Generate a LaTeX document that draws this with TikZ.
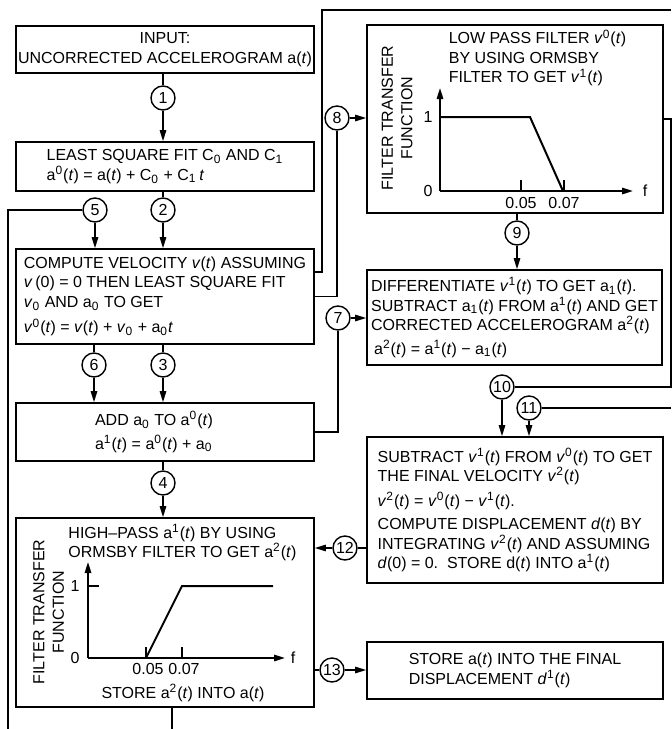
\documentclass[tikz,border=0pt]{standalone}
\usepackage{fontspec}
\setmainfont{Liberation Sans}
\usetikzlibrary{arrows.meta}
\newcommand{\Tt}{\textit{t}}
\newcommand{\Vv}{\textit{v}}
\newcommand{\Sp}[1]{\textsuperscript{#1}}
\newcommand{\Sb}[1]{\textsubscript{#1}}
\begin{document}
\begin{tikzpicture}[x=0.5pt, y=-0.5pt, line width=0.7pt,
    font=\fontsize{8}{9.75}\selectfont,
    box/.style={draw, line width=0.8pt, align=left, inner sep=0pt},
    num/.style={circle, draw, line width=0.7pt, inner sep=0pt, minimum size=12pt},
    arr/.style={-{Triangle[length=5.5pt,width=3.2pt]}},
    axis/.style={line width=0.9pt, -{Triangle[length=5.5pt,width=3.2pt]}},
    curve/.style={line width=1pt}]
    \useasboundingbox (0,0) rectangle (671,729);

    % Left column
    \node[box, align=center, minimum width=149pt, minimum height=23.5pt] (in) at (165,49.5)
        {INPUT:\\UNCORRECTED ACCELEROGRAM a(\Tt)};
    \node[num] (c1) at (163,98) {1};
    \node[box, minimum width=149pt, minimum height=24.5pt] (lsq) at (165,166.5)
        {LEAST SQUARE FIT C\Sb{0} AND C\Sb{1}\\a\Sp{0}(\Tt) = a(\Tt) + C\Sb{0} + C\Sb{1}\,\Tt};
    \node[num] (c5) at (95,210) {5};
    \node[num] (c2) at (163,210) {2};
    \node[box, minimum width=149pt, minimum height=47.5pt] (vel) at (165,296.5)
        {COMPUTE VELOCITY \Vv(\Tt) ASSUMING\\\Vv\,(0) = 0 THEN LEAST SQUARE FIT\\
         \Vv\Sb{0} AND a\Sb{0} TO GET\\[3pt]\Vv\Sp{0}(\Tt) = \Vv(\Tt) + \Vv\Sb{0} + a\Sb{0}\Tt};
    \node[num] (c6) at (94,365) {6};
    \node[num] (c3) at (163,365) {3};
    \node[box, minimum width=149pt, minimum height=29pt] (add) at (165,432)
        {ADD a\Sb{0} TO a\Sp{0}(\Tt)\hspace*{11pt}\\[2pt]a\Sp{1}(\Tt) = a\Sp{0}(\Tt) + a\Sb{0}};
    \node[num] (c4) at (163,483) {4};

    % High-pass box with its filter plot
    \node[box, minimum width=149pt, minimum height=94.5pt] (hp) at (165,612.5) {};
    \node[align=left] (hpt) at (182.5,542.5)
        {HIGH–PASS a\Sp{1}(\Tt) BY USING\\ORMSBY FILTER TO GET a\Sp{2}(\Tt)};
    \node[rotate=90, align=center] (hpy) at (48.5,612) {FILTER TRANSFER\\FUNCTION};
    \draw[axis] (88,658) -- (88,562);
    \draw[axis] (88,658) -- (285,658);
    \draw (88,586) -- (99,586);
    \draw (146,658) -- (146,647);
    \draw (182,658) -- (182,647);
    \draw[curve] (146,658) -- (182,586) -- (273,586);
    \node (hp0) at (75,658) {0};
    \node (hp1) at (75,586) {1};
    \node (hpf) at (293,658) {f};
    \node (hpa) at (148,669) {0.05};
    \node (hpb) at (184,669) {0.07};
    \node (hps) at (183,693) {STORE a\Sp{2}(\Tt) INTO a(\Tt)};

    % Low-pass box with its filter plot
    \node[box, minimum width=148pt, minimum height=94pt] (lp) at (515,119) {};
    \node[align=left] (lpt) at (537.5,58)
        {LOW PASS FILTER \Vv\Sp{0}(\Tt)\\BY USING ORMSBY\\FILTER TO GET \Vv\Sp{1}(\Tt)};
    \node[rotate=90, align=center] (lpy) at (397,118) {FILTER TRANSFER\\FUNCTION};
    \draw[axis] (440,191) -- (440,88);
    \draw[axis] (440,191) -- (633,191);
    \draw (521,191) -- (521,180);
    \draw (564,191) -- (564,180);
    \draw[curve] (440,117) -- (530,117) -- (563,191);
    \node (lp0) at (428,191) {0};
    \node (lp1) at (428,117) {1};
    \node (lpf) at (645,191) {f};
    \node (lpa) at (521,203) {0.05};
    \node (lpb) at (564,203) {0.07};

    % Right column
    \node[num] (c8) at (337,118) {8};
    \node[num] (c9) at (517,233) {9};
    \node[box, minimum width=147.5pt, minimum height=47.5pt] (diff) at (514.5,317.5)
        {DIFFERENTIATE \Vv\Sp{1}(\Tt) TO GET a\Sb{1}(\Tt).\\SUBTRACT a\Sb{1}(\Tt) FROM a\Sp{1}(\Tt) AND GET\\
         CORRECTED ACCELEROGRAM a\Sp{2}(\Tt)\\[2pt]\hspace*{1.5pt}a\Sp{2}(\Tt) = a\Sp{1}(\Tt) − a\Sb{1}(\Tt)};
    \node[num] (c7) at (338,318) {7};
    \node[num] (c10) at (502,387) {10};
    \node[num] (c11) at (529,408) {11};
    \node[box, minimum width=148pt, minimum height=73pt] (sub) at (515,510)
        {SUBTRACT \Vv\Sp{1}(\Tt) FROM \Vv\Sp{0}(\Tt) TO GET\\THE FINAL VELOCITY \Vv\Sp{2}(\Tt)\\[2.5pt]
         \Vv\Sp{2}(\Tt) = \Vv\Sp{0}(\Tt) − \Vv\Sp{1}(\Tt).\\[2pt]COMPUTE DISPLACEMENT \textit{d}(\Tt) BY\\
         INTEGRATING \Vv\Sp{2}(\Tt) AND ASSUMING\\\textit{d}(0) = 0.\ \ STORE d(\Tt) INTO a\Sp{1}(\Tt)};
    \node[num] (c12) at (345,548) {12};
    \node[num] (c13) at (332,670) {13};
    \node[box, minimum width=148pt, minimum height=28.5pt] (store) at (515,670.5)
        {STORE a(\Tt) INTO THE FINAL\\DISPLACEMENT \textit{d}\Sp{1}(\Tt)};

    \coordinate (botL) at (8,729);
    \coordinate (botM) at (172,729);
    \coordinate (topA) at (322,10);
    \coordinate (topR) at (671,10);
    \coordinate (r11) at (671,408);

    % Connectors, left column
    \draw (in.south -| c1) -- (c1);
    \draw[arr] (c1) -- (c1 |- lsq.north);
    \draw (lsq.south -| c2) -- (c2);
    \draw[arr] (c2) -- (c2 |- vel.north);
    \draw (botL) |- (c5);
    \draw[arr] (c5) -- (c5 |- vel.north);
    \draw (vel.south -| c6) -- (c6);
    \draw[arr] (c6) -- (c6 |- add.north);
    \draw (vel.south -| c3) -- (c3);
    \draw[arr] (c3) -- (c3 |- add.north);
    \draw (add.south -| c4) -- (c4);
    \draw[arr] (c4) -- (c4 |- hp.north);
    \draw (hp.south -| botM) -- (botM);

    % Connectors, right column
    \draw ([yshift=12.25pt]vel.east) -| (topA) -- (topR);
    \draw (vel.east) -| (c8);
    \draw[arr] (c8) -- (c8 -| lp.west);
    \draw (lp.south -| c9) -- (c9);
    \draw[arr] (c9) -- (c9 |- diff.north);
    \draw (add.east) -| (c7);
    \draw[arr] (c7) -- (c7 -| diff.west);
    \draw (lp.east) -- ++(7,0) |- (c10);
    \draw[arr] (c10) -- (c10 |- sub.north);
    \draw (r11) -- (c11);
    \draw[arr] (c11) -- (c11 |- sub.north);
    \draw (sub.west |- c12) -- (c12);
    \draw[arr] (c12) -- (c12 -| hp.east);
    \draw (hp.east |- c13) -- (c13);
    \draw[arr] (c13) -- (c13 -| store.west);
\end{tikzpicture}
\end{document}
